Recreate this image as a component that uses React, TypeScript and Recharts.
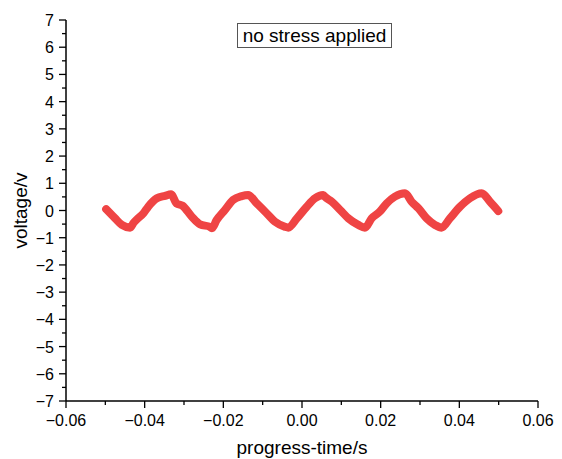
import React from "react";
import { LineChart, Line, XAxis, YAxis } from "recharts";

const times = [
  -0.0498, -0.0475, -0.0458, -0.0437, -0.0428, -0.042, -0.0403, -0.0391, -0.0369,
  -0.0348, -0.0333, -0.0319, -0.0304, -0.028, -0.0259, -0.0234, -0.0229, -0.0217,
  -0.0196, -0.0175, -0.0153, -0.0137, -0.0115, -0.009, -0.0069, -0.0043, -0.0035,
  -0.0013, 0.0012, 0.0033, 0.0054, 0.0058, 0.0076, 0.0097, 0.0118, 0.0143, 0.016,
  0.0177, 0.0198, 0.0215, 0.0236, 0.0262, 0.0279, 0.0296, 0.0317, 0.0338, 0.0355,
  0.0376, 0.0402, 0.0427, 0.0457, 0.0478, 0.0499,
];
const voltages = [
  0.05, -0.29, -0.53, -0.63, -0.45, -0.33, -0.1, 0.14, 0.45,
  0.54, 0.6, 0.26, 0.18, -0.23, -0.51, -0.6, -0.65, -0.35,
  0.02, 0.39, 0.53, 0.57, 0.26, -0.1, -0.41, -0.6, -0.63,
  -0.29, 0.14, 0.45, 0.57, 0.51, 0.32, 0.02, -0.29, -0.53, -0.63,
  -0.29, -0.04, 0.26, 0.51, 0.63, 0.32, 0.08, -0.29, -0.53, -0.63,
  -0.29, 0.14, 0.45, 0.63, 0.32, -0.02,
];

const xTicks = [-0.06, -0.05, -0.04, -0.03, -0.02, -0.01, 0, 0.01, 0.02, 0.03, 0.04, 0.05, 0.06];
const yTicks = [
  -7, -6.5, -6, -5.5, -5, -4.5, -4, -3.5, -3, -2.5, -2, -1.5, -1, -0.5, 0,
  0.5, 1, 1.5, 2, 2.5, 3, 3.5, 4, 4.5, 5, 5.5, 6, 6.5, 7,
];

const data = times.map((t, i) => ({ t, v: voltages[i] }));

const font = "'Liberation Sans', Arial, sans-serif";
const minus = (s: string) => s.replace("-", "\u2212");

const XTick = (props: any) => {
  const { x, y, payload } = props;
  const val = payload.value as number;
  const major = Math.abs(Math.round(val * 100)) % 2 === 0;
  return (
    <g>
      <line x1={x} x2={x} y1={y} y2={y + (major ? 7 : 4)} stroke="#000" strokeWidth={1.3} />
      {major && (
        <text x={x} y={y + 25} textAnchor="middle" fontSize={16} fontFamily={font} fill="#000">
          {minus(val.toFixed(2))}
        </text>
      )}
    </g>
  );
};

const YTick = (props: any) => {
  const { x, y, payload } = props;
  const val = payload.value as number;
  const major = Number.isInteger(val);
  return (
    <g>
      <line x1={x} x2={x - (major ? 7 : 4)} y1={y} y2={y} stroke="#000" strokeWidth={1.3} />
      {major && (
        <text x={x - 12} y={y + 6} textAnchor="end" fontSize={16} fontFamily={font} fill="#000">
          {minus(String(val))}
        </text>
      )}
    </g>
  );
};

export default function App() {
  return (
    <div style={{ position: "absolute", left: 0, top: 0, width: 562, height: 459, background: "#fff" }}>
      <LineChart
        width={562}
        height={459}
        data={data}
        margin={{ top: 20, right: 24, bottom: 18, left: 20 }}
      >
        <XAxis
          dataKey="t"
          type="number"
          domain={[-0.06, 0.06]}
          ticks={xTicks}
          interval={0}
          height={40}
          tickSize={0}
          tickMargin={0}
          tickLine={false}
          axisLine={{ stroke: "#000", strokeWidth: 1.5 }}
          tick={<XTick />}
          label={{
            value: "progress-time/s",
            position: "insideBottom",
            offset: -13,
            style: { fontSize: 19, fontFamily: font, fill: "#000" },
          }}
        />
        <YAxis
          type="number"
          domain={[-7, 7]}
          ticks={yTicks}
          interval={0}
          width={46}
          tickSize={0}
          tickMargin={0}
          tickLine={false}
          axisLine={{ stroke: "#000", strokeWidth: 1.5 }}
          tick={<YTick />}
          label={{
            value: "voltage/v",
            angle: -90,
            position: "insideLeft",
            offset: 0,
            style: { fontSize: 19, fontFamily: font, fill: "#000", textAnchor: "middle" },
          }}
        />
        <Line
          dataKey="v"
          type="monotone"
          stroke="#ef4444"
          strokeWidth={8}
          strokeLinecap="round"
          strokeLinejoin="round"
          dot={false}
          isAnimationActive={false}
        />
      </LineChart>
      <div
        style={{
          position: "absolute",
          left: 237,
          top: 23,
          width: 155,
          height: 25,
          border: "1px solid #555",
          boxSizing: "border-box",
          fontFamily: font,
          fontSize: 19,
          lineHeight: "23px",
          textAlign: "center",
          color: "#000",
          background: "#fff",
        }}
      >
        no stress applied
      </div>
    </div>
  );
}
